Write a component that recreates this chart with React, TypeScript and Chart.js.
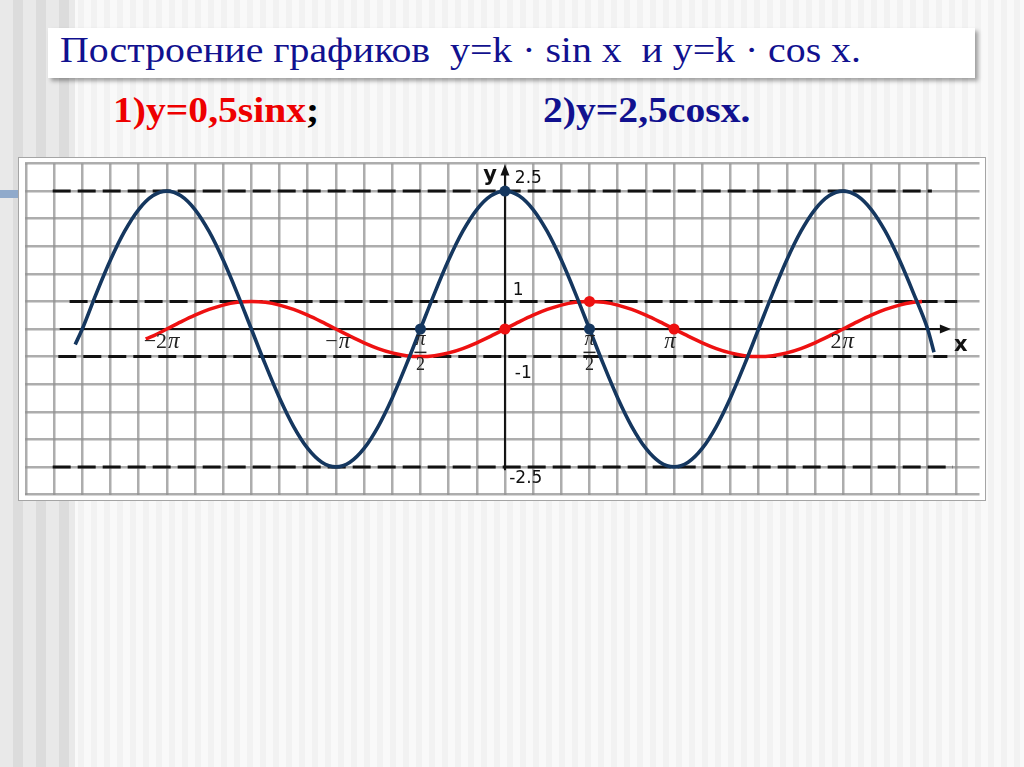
import React, { useEffect, useRef } from "react";
import { Chart, registerables } from "chart.js";
Chart.register(...registerables);

// x values are in units of π/12 (so π/2 = 6, π = 12, 2π = 24)
const BLUE_X = [-30.5, -30, -29, -28, -27, -26, -25, -24, -23, -22, -21, -20, -19, -18, -17, -16, -15, -14, -13, -12, -11, -10, -9, -8, -7, -6, -5, -4, -3, -2, -1, 0, 1, 2, 3, 4, 5, 6, 7, 8, 9, 10, 11, 12, 13, 14, 15, 16, 17, 18, 19, 20, 21, 22, 23, 24, 25, 26, 27, 28, 29, 30, 30.45];
const BLUE_Y = [-0.28, 0, 0.647, 1.25, 1.768, 2.165, 2.415, 2.5, 2.415, 2.165, 1.768, 1.25, 0.647, 0, -0.647, -1.25, -1.768, -2.165, -2.415, -2.5, -2.415, -2.165, -1.768, -1.25, -0.647, 0, 0.647, 1.25, 1.768, 2.165, 2.415, 2.5, 2.415, 2.165, 1.768, 1.25, 0.647, 0, -0.647, -1.25, -1.768, -2.165, -2.415, -2.5, -2.415, -2.165, -1.768, -1.25, -0.647, 0, 0.647, 1.25, 1.768, 2.165, 2.415, 2.5, 2.415, 2.165, 1.768, 1.25, 0.647, 0, -0.42];

const RED_X = [-25.5, -25, -24, -23, -22, -21, -20, -19, -18, -17, -16, -15, -14, -13, -12, -11, -10, -9, -8, -7, -6, -5, -4, -3, -2, -1, 0, 1, 2, 3, 4, 5, 6, 7, 8, 9, 10, 11, 12, 13, 14, 15, 16, 17, 18, 19, 20, 21, 22, 23, 24, 25, 26, 27, 28, 29, 29.6];
const RED_Y = [-0.18, -0.129, 0, 0.129, 0.25, 0.354, 0.433, 0.483, 0.5, 0.483, 0.433, 0.354, 0.25, 0.129, 0, -0.129, -0.25, -0.354, -0.433, -0.483, -0.5, -0.483, -0.433, -0.354, -0.25, -0.129, 0, 0.129, 0.25, 0.354, 0.433, 0.483, 0.5, 0.483, 0.433, 0.354, 0.25, 0.129, 0, -0.129, -0.25, -0.354, -0.433, -0.483, -0.5, -0.483, -0.433, -0.354, -0.25, -0.129, 0, 0.129, 0.25, 0.354, 0.433, 0.483, 0.5];

const BLUE_DOTS_X = [-6, 0, 6];
const BLUE_DOTS_Y = [0, 2.5, 0];
const RED_DOTS_X = [0, 6, 12];
const RED_DOTS_Y = [0, 0.5, 0];

const DASH_LEVELS = [2.5, 0.5, -0.5, -2.5];
const DASH_FROM = [-32.1, -30.9, -31.7, -32.1];
const DASH_TO = [30.3, 32.1, 31.4, 31.8];

const X_AXIS_RANGE = [-31.6, 31.65];
const Y_AXIS_RANGE = [-2.56, 2.98];

const X_MIN = -34.1;
const X_MAX = 33.68;
const Y_MIN = -3;
const Y_MAX = 3;

const Y_TICK_TEXT = ["2.5", "1", "-1", "-2.5"];
const Y_TICK_X = [0.7, 0.56, 0.7, 0.3];
const Y_TICK_Y = [2.72, 0.7, -0.8, -2.72];

const PI_PREFIX = ["−2", "−", "", "2"];
const PI_X = [-24.4, -11.9, 11.65, 23.9];
const PI_Y = -0.24;
const FRACTION_X = [-6, 6];

const BLUE = "#15375f";
const RED = "#ee1111";

export default function App() {
  const ref = useRef<HTMLCanvasElement>(null);

  useEffect(() => {
    const canvas = ref.current;
    if (!canvas) return;

    const pts = (xs: number[], ys: number[]) => xs.map((x, i) => ({ x, y: ys[i] }));

    const dashSets = DASH_LEVELS.map((lv, i) => ({
      data: [
        { x: DASH_FROM[i], y: lv },
        { x: DASH_TO[i], y: lv },
      ],
      borderColor: "#111",
      borderWidth: 3,
      borderDash: [18, 7],
      pointRadius: 0,
      fill: false,
      order: 10,
    }));

    const overlay = {
      id: "overlay",
      afterDraw(chart: any) {
        const ctx = chart.ctx as CanvasRenderingContext2D;
        const xs = chart.scales.x;
        const ys = chart.scales.y;
        const px = (v: number) => xs.getPixelForValue(v);
        const py = (v: number) => ys.getPixelForValue(v);
        ctx.save();
        ctx.fillStyle = "#111";
        // x arrow
        const ax = px(X_AXIS_RANGE[1]);
        const ay = py(0);
        ctx.beginPath();
        ctx.moveTo(ax, ay);
        ctx.lineTo(ax - 11, ay - 4.5);
        ctx.lineTo(ax - 11, ay + 4.5);
        ctx.closePath();
        ctx.fill();
        // y arrow
        const bx = px(0);
        const by = py(Y_AXIS_RANGE[1]);
        ctx.beginPath();
        ctx.moveTo(bx, by);
        ctx.lineTo(bx - 4.5, by + 11);
        ctx.lineTo(bx + 4.5, by + 11);
        ctx.closePath();
        ctx.fill();

        // axis letters
        ctx.textBaseline = "middle";
        ctx.textAlign = "center";
        ctx.font = "bold 21px 'DejaVu Sans'";
        ctx.fillText("y", px(-1.05), py(2.78));
        ctx.fillText("x", px(32.35), py(-0.3));

        // y tick labels
        ctx.font = "17px 'DejaVu Sans'";
        ctx.textAlign = "left";
        Y_TICK_TEXT.forEach((t, i) => {
          ctx.fillText(t, px(Y_TICK_X[i]), py(Y_TICK_Y[i]));
        });

        // pi labels
        ctx.fillStyle = "#222";
        PI_PREFIX.forEach((pre, i) => {
          ctx.font = "22px 'Liberation Serif'";
          const w1 = ctx.measureText(pre).width;
          ctx.font = "italic 23px 'Liberation Serif'";
          const w2 = ctx.measureText("π").width;
          const start = px(PI_X[i]) - (w1 + w2) / 2;
          ctx.textAlign = "left";
          ctx.font = "22px 'Liberation Serif'";
          ctx.fillText(pre, start, py(PI_Y));
          ctx.font = "italic 23px 'Liberation Serif'";
          ctx.fillText("π", start + w1 + 1, py(PI_Y));
        });
        // fractions π/2
        FRACTION_X.forEach((fx) => {
          const cx = px(fx);
          ctx.textAlign = "center";
          ctx.font = "italic 20px 'Liberation Serif'";
          ctx.fillText("π", cx, py(-0.2));
          ctx.fillRect(cx - 6, py(-0.41), 12, 1.5);
          ctx.font = "18px 'Liberation Serif'";
          ctx.fillText("2", cx, py(-0.66));
        });
        ctx.restore();
      },
    };

    const chart = new Chart(canvas, {
      type: "line",
      data: {
        datasets: [
          {
            data: pts(RED_DOTS_X, RED_DOTS_Y),
            showLine: false,
            pointRadius: 5.5,
            pointBackgroundColor: RED,
            pointBorderWidth: 0,
            order: 0,
          },
          {
            data: pts(BLUE_DOTS_X, BLUE_DOTS_Y),
            showLine: false,
            pointRadius: 5.5,
            pointBackgroundColor: BLUE,
            pointBorderWidth: 0,
            order: 1,
          },
          {
            data: pts(BLUE_X, BLUE_Y),
            borderColor: BLUE,
            borderWidth: 3.6,
            pointRadius: 0,
            cubicInterpolationMode: "monotone",
            fill: false,
            order: 2,
          },
          {
            data: pts(RED_X, RED_Y),
            borderColor: RED,
            borderWidth: 3.5,
            pointRadius: 0,
            cubicInterpolationMode: "monotone",
            fill: false,
            order: 3,
          },
          {
            data: [
              { x: X_AXIS_RANGE[0], y: 0 },
              { x: X_AXIS_RANGE[1] - 0.5, y: 0 },
            ],
            borderColor: "#111",
            borderWidth: 2,
            pointRadius: 0,
            order: 4,
          },
          {
            data: [
              { x: 0, y: Y_AXIS_RANGE[0] },
              { x: 0, y: Y_AXIS_RANGE[1] - 0.15 },
            ],
            borderColor: "#111",
            borderWidth: 2,
            pointRadius: 0,
            order: 5,
          },
          ...dashSets,
        ] as any,
      },
      options: {
        animation: false,
        responsive: false,
        events: [],
        layout: { padding: 0 },
        plugins: { legend: { display: false }, tooltip: { enabled: false } },
        scales: {
          x: {
            type: "linear",
            min: X_MIN,
            max: X_MAX,
            afterBuildTicks: (scale: any) => {
              const t = [];
              for (let v = -34; v <= 33; v += 2) t.push({ value: v });
              scale.ticks = t;
            },
            ticks: { display: false },
            border: { display: false },
            grid: { color: "rgba(145,145,145,0.75)", lineWidth: 2.5, drawTicks: false },
          },
          y: {
            type: "linear",
            min: Y_MIN,
            max: Y_MAX,
            ticks: { display: false, stepSize: 0.5 },
            border: { display: false },
            grid: { color: "rgba(145,145,145,0.75)", lineWidth: 2.5, drawTicks: false },
          },
        },
      } as any,
      plugins: [overlay],
    });
    return () => chart.destroy();
  }, []);

  return (
    <div
      style={{
        position: "absolute",
        left: 0,
        top: 0,
        width: 1024,
        height: 767,
        overflow: "hidden",
        background:
          "repeating-linear-gradient(90deg, #f2f2f2 0px, #f2f2f2 6px, #f9f9f9 6px, #f9f9f9 13px)",
      }}
    >
      <div
        style={{
          position: "absolute",
          left: 0,
          top: 0,
          width: 75,
          height: 767,
          background:
            "repeating-linear-gradient(90deg, #e9e9e9 0px, #e9e9e9 13px, #dcdcdc 13px, #dcdcdc 23px)",
        }}
      />
      <div
        style={{
          position: "absolute",
          left: 0,
          top: 190,
          width: 19,
          height: 8,
          background: "#90aacb",
        }}
      />
      <div
        style={{
          position: "absolute",
          left: 48,
          top: 28,
          width: 927,
          height: 50,
          background: "#fff",
          boxShadow: "3px 3px 4px rgba(0,0,0,0.35)",
        }}
      />
      <div
        style={{
          position: "absolute",
          left: 60,
          top: 31.8,
          fontFamily: "'Liberation Serif', serif",
          fontSize: 36,
          lineHeight: "36px",
          color: "#11118f",
          whiteSpace: "pre",
          transform: "scaleX(1.105)",
          transformOrigin: "left top",
        }}
      >
        {"Построение графиков  y=k · sin x  и y=k · cos x."}
      </div>
      <div
        style={{
          position: "absolute",
          left: 113,
          top: 92,
          fontFamily: "'Liberation Serif', serif",
          fontWeight: "bold",
          fontSize: 36,
          lineHeight: "36px",
          whiteSpace: "pre",
          transform: "scaleX(1.1)",
          transformOrigin: "left top",
        }}
      >
        <span style={{ color: "#ee0000" }}>1)y=0,5sinx</span>
        <span style={{ color: "#000" }}>;</span>
      </div>
      <div
        style={{
          position: "absolute",
          left: 543,
          top: 92,
          fontFamily: "'Liberation Serif', serif",
          fontWeight: "bold",
          fontSize: 36,
          lineHeight: "36px",
          color: "#11118f",
          whiteSpace: "pre",
          transform: "scaleX(1.1)",
          transformOrigin: "left top",
        }}
      >
        2)y=2,5cosx.
      </div>
      <div
        style={{
          position: "absolute",
          left: 18,
          top: 157,
          width: 966,
          height: 342,
          border: "1px solid #a5a5a5",
          background: "#fff",
        }}
      >
        <canvas ref={ref} width={966} height={342} style={{ display: "block", width: 966, height: 342 }} />
      </div>
    </div>
  );
}
